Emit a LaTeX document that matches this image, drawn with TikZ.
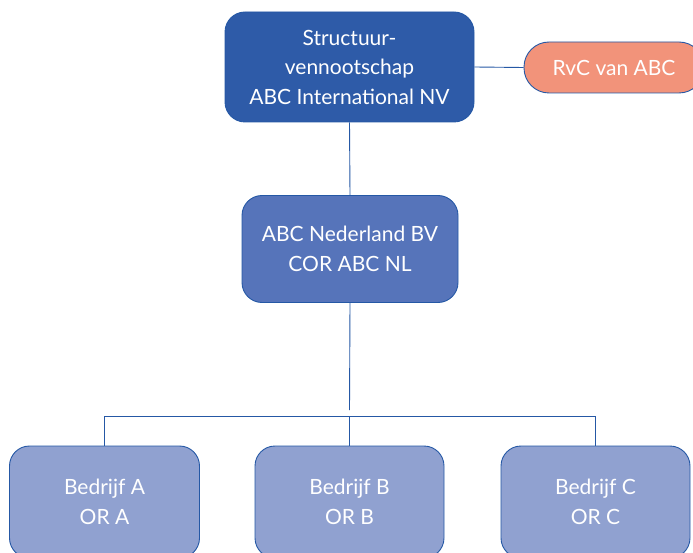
\documentclass[tikz,border=0pt]{standalone}
\usepackage{fontspec}
\setmainfont{Lato}
\definecolor{topblue}{HTML}{2E5BA8}
\definecolor{midblue}{HTML}{5674BA}
\definecolor{lowblue}{HTML}{90A1D0}
\definecolor{salmon}{HTML}{F2937A}
\definecolor{edgeblue}{HTML}{2558A5}
\begin{document}
\begin{tikzpicture}[x=1pt,y=-1pt,
  box/.style={draw=edgeblue,line width=0.9pt,rounded corners=20pt,text=white,align=center,
    font=\fontsize{21}{29.5}\selectfont,inner sep=0pt},
  link/.style={draw=edgeblue,line width=0.9pt}]
\useasboundingbox (0,0) rectangle (693,553);
\clip (0,0) rectangle (693,553);
\node[box,fill=topblue,minimum width=249pt,minimum height=110pt] (top) at (349.5,67) {Structuur-\\vennootschap\\ABC International NV};
\node[box,fill=salmon,rounded corners=25pt,minimum width=180pt,minimum height=51pt] (rvc) at (614,67.5) {RvC van ABC};
\node[box,fill=midblue,minimum width=216pt,minimum height=107pt] (mid) at (350,249) {ABC Nederland BV\\COR ABC NL};
\node[box,fill=lowblue,minimum width=190pt,minimum height=112pt] (a) at (104.5,502) {Bedrijf A\\OR A};
\node[box,fill=lowblue,minimum width=189pt,minimum height=112pt] (b) at (349.5,502) {Bedrijf B\\OR B};
\node[box,fill=lowblue,minimum width=189pt,minimum height=112pt] (c) at (595.5,502) {Bedrijf C\\OR C};
\coordinate (stem) at (349.5,410);
\coordinate (busl) at (104.5,416);
\coordinate (busr) at (595.5,416);
\path[link] (top.east) -- (rvc.west);
\path[link] (top.south) -- (mid.north);
\path[link] (mid.south) -- (stem);
\path[link] (busl) -- (busr);
\path[link] (busl) -- (a.north);
\path[link] (b.north |- busl) -- (b.north);
\path[link] (busr) -- (c.north);
\end{tikzpicture}
\end{document}
